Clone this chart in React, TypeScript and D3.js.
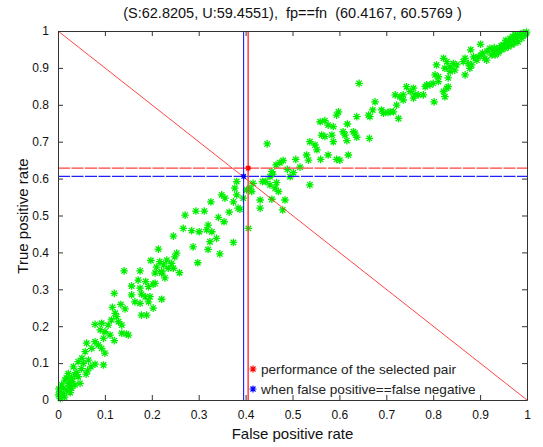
import React, { useRef, useEffect } from "react";
import * as d3 from "d3";

// scatter of (false positive rate, true positive rate) pairs
const lowPoints: [number, number][] = [
  [0.141, 0.35], [0.175, 0.35], [0.207, 0.344], [0.221, 0.344], [0.171, 0.325], [0.187, 0.321],
  [0.207, 0.316], [0.157, 0.309], [0.175, 0.303], [0.193, 0.307], [0.12, 0.289], [0.157, 0.285],
  [0.178, 0.287], [0.186, 0.28], [0.164, 0.266], [0.175, 0.262], [0.193, 0.266], [0.221, 0.273],
  [0.134, 0.259], [0.116, 0.251], [0.143, 0.247], [0.178, 0.23], [0.189, 0.23], [0.122, 0.235],
  [0.125, 0.226], [0.114, 0.217], [0.129, 0.212], [0.079, 0.205], [0.093, 0.208], [0.107, 0.203],
  [0.136, 0.203], [0.09, 0.19], [0.1, 0.185], [0.111, 0.176], [0.097, 0.167], [0.136, 0.181],
  [0.146, 0.179], [0.15, 0.176], [0.12, 0.161], [0.061, 0.154], [0.079, 0.158], [0.086, 0.149],
  [0.072, 0.14], [0.058, 0.131], [0.093, 0.14], [0.1, 0.127], [0.051, 0.113], [0.043, 0.104],
  [0.054, 0.099], [0.065, 0.108], [0.079, 0.097], [0.097, 0.095], [0.063, 0.079], [0.033, 0.09],
  [0.022, 0.072], [0.036, 0.068], [0.043, 0.063], [0.029, 0.059], [0.015, 0.054], [0.022, 0.045],
  [0.047, 0.045], [0.008, 0.041], [0.011, 0.032], [0.004, 0.022], [0.001, 0.014], [0.008, 0.009],
  [0.019, 0.027], [0.029, 0.032], [0.036, 0.041], [0.005, 0.004], [0.012, 0.018], [0.025, 0.038],
  [0.03, 0.05], [0.04, 0.075], [0.05, 0.085], [0.06, 0.07], [0.07, 0.09], [0.018, 0.06],
  [0.002, 0.03], [0.014, 0.008], [0.026, 0.02],
];

const midPoints: [number, number][] = [
  [0.381, 0.592], [0.377, 0.574], [0.381, 0.556], [0.374, 0.537], [0.384, 0.52], [0.349, 0.556],
  [0.356, 0.547], [0.326, 0.537], [0.294, 0.512], [0.312, 0.512], [0.271, 0.501], [0.365, 0.509],
  [0.342, 0.495], [0.354, 0.483], [0.32, 0.474], [0.317, 0.461], [0.328, 0.456], [0.267, 0.465],
  [0.285, 0.459], [0.301, 0.456], [0.246, 0.444], [0.338, 0.438], [0.324, 0.429], [0.374, 0.427],
  [0.288, 0.415], [0.32, 0.408], [0.345, 0.396], [0.214, 0.409], [0.253, 0.398], [0.249, 0.388],
  [0.198, 0.378], [0.217, 0.375], [0.232, 0.379], [0.242, 0.37], [0.225, 0.366], [0.21, 0.36],
  [0.235, 0.357], [0.221, 0.348], [0.228, 0.331], [0.246, 0.357], [0.298, 0.372], [0.259, 0.345],
  [0.203, 0.314], [0.196, 0.28], [0.203, 0.249],
  [0.559, 0.754], [0.576, 0.745], [0.587, 0.741], [0.562, 0.718], [0.569, 0.714], [0.584, 0.718],
  [0.587, 0.7], [0.537, 0.7], [0.548, 0.691], [0.552, 0.678], [0.446, 0.694], [0.53, 0.664],
  [0.534, 0.65], [0.56, 0.652], [0.576, 0.664], [0.594, 0.652], [0.507, 0.652], [0.48, 0.649],
  [0.465, 0.637], [0.473, 0.643], [0.489, 0.625], [0.516, 0.631], [0.502, 0.616], [0.456, 0.619],
  [0.458, 0.612], [0.452, 0.605], [0.495, 0.605], [0.436, 0.592], [0.443, 0.592], [0.466, 0.589],
  [0.452, 0.583], [0.463, 0.574], [0.47, 0.565], [0.416, 0.587], [0.409, 0.574], [0.413, 0.565],
  [0.537, 0.583], [0.402, 0.569], [0.395, 0.547], [0.431, 0.542], [0.456, 0.544], [0.484, 0.542],
  [0.479, 0.515], [0.431, 0.52], [0.388, 0.517], [0.406, 0.465],
];

const highPoints: [number, number][] = [
  [0.807, 0.908], [0.804, 0.881], [0.811, 0.876], [0.8, 0.858], [0.811, 0.863], [0.642, 0.858],
  [0.743, 0.849], [0.758, 0.845], [0.751, 0.836], [0.786, 0.854], [0.783, 0.849], [0.793, 0.854],
  [0.768, 0.827], [0.758, 0.818], [0.736, 0.827], [0.719, 0.827], [0.729, 0.822], [0.736, 0.813],
  [0.779, 0.827], [0.802, 0.808], [0.676, 0.808], [0.722, 0.799], [0.715, 0.781], [0.704, 0.779],
  [0.69, 0.786], [0.694, 0.777], [0.708, 0.781], [0.726, 0.763], [0.671, 0.786], [0.662, 0.772],
  [0.665, 0.768], [0.598, 0.781], [0.594, 0.772], [0.637, 0.768], [0.569, 0.757], [0.617, 0.748],
  [0.608, 0.727], [0.612, 0.718], [0.63, 0.727], [0.633, 0.723], [0.637, 0.712], [0.616, 0.703],
  [0.664, 0.709], [0.601, 0.65], [0.619, 0.664],
  [0.999, 0.997], [0.992, 0.995], [0.985, 0.989], [0.978, 0.98], [0.971, 0.976], [0.964, 0.971],
  [0.957, 0.967], [0.949, 0.962], [0.942, 0.953], [0.935, 0.949], [0.928, 0.944], [0.925, 0.935],
  [0.921, 0.953], [0.997, 0.993], [0.996, 0.989], [0.989, 0.98], [0.981, 0.971], [0.974, 0.967],
  [0.967, 0.962], [0.96, 0.957], [0.953, 0.953], [0.946, 0.949], [0.939, 0.94], [0.932, 0.935],
  [0.964, 0.98], [0.901, 0.964], [0.88, 0.949], [0.896, 0.93], [0.903, 0.935], [0.91, 0.926],
  [0.893, 0.921], [0.886, 0.93], [0.914, 0.921], [0.868, 0.926], [0.864, 0.917], [0.875, 0.912],
  [0.882, 0.908], [0.878, 0.899], [0.868, 0.881], [0.822, 0.926], [0.829, 0.917], [0.825, 0.899],
  [0.836, 0.903], [0.843, 0.912], [0.85, 0.908], [0.836, 0.89], [0.846, 0.894], [0.832, 0.873],
  [0.829, 0.845], [0.832, 0.849], [0.822, 0.836], [0.825, 0.822], [0.761, 0.827],
  [0.99, 0.99], [0.98, 0.99], [0.97, 0.985], [0.955, 0.975], [0.945, 0.96], [0.93, 0.955],
  [0.915, 0.945], [0.905, 0.94], [0.89, 0.925], [0.975, 0.99], [0.96, 0.97], [0.94, 0.945],
];

// selected pair (S, U) and the fp==fn point, in percent
const selectedPair = { sens: 62.8205, spec: 59.4551 };
const equalErrorPair = { spec: 60.4167, sens: 60.5769 };

const tickValues = [0, 0.1, 0.2, 0.3, 0.4, 0.5, 0.6, 0.7, 0.8, 0.9, 1];
const legendLabels = ["performance of the selected pair", "when false positive==false negative"];

const FONT = "'Liberation Sans', Arial, Helvetica, sans-serif";

const starPath = (r: number) => {
  const d = r * 0.72;
  return `M${-r},0L${r},0M0,${-r}L0,${r}M${-d},${-d}L${d},${d}M${-d},${d}L${d},${-d}`;
};

const RocChart = () => {
  const ref = useRef(null);

  useEffect(() => {
    const svg = d3.select(ref.current);
    svg.selectAll("*").remove();

    const margin = { top: 31, right: 16, bottom: 47, left: 58 },
      width = 543 - margin.left - margin.right,
      height = 447 - margin.top - margin.bottom;

    const x = d3.scaleLinear().domain([0, 1]).range([0, width]);
    const y = d3.scaleLinear().domain([0, 1]).range([height, 0]);

    svg.append("rect").attr("width", 543).attr("height", 447).attr("fill", "#fff");

    const chart = svg.append("g").attr("transform", `translate(${margin.left},${margin.top})`);

    // green asterisks
    const allPoints = [...lowPoints, ...midPoints, ...highPoints];
    chart
      .selectAll(".pt")
      .data(allPoints)
      .enter()
      .append("path")
      .attr("class", "pt")
      .attr("transform", (d) => `translate(${x(d[0])},${y(d[1])})`)
      .attr("d", starPath(3.8))
      .attr("stroke", "#00ee00")
      .attr("stroke-width", 1.3)
      .attr("fill", "none");

    // reference lines
    const selX = 1 - selectedPair.spec / 100;
    const selY = selectedPair.sens / 100;
    const eqX = 1 - equalErrorPair.spec / 100;
    const eqY = equalErrorPair.sens / 100;

    chart
      .append("line")
      .attr("x1", x(0)).attr("y1", y(1)).attr("x2", x(1)).attr("y2", y(0))
      .attr("stroke", "#ff3030").attr("stroke-width", 0.9);

    chart
      .append("line")
      .attr("x1", x(0)).attr("x2", x(1)).attr("y1", y(selY)).attr("y2", y(selY))
      .attr("stroke", "#ff4040").attr("stroke-width", 1.3).attr("stroke-dasharray", "12,1.5");
    chart
      .append("line")
      .attr("x1", x(0)).attr("x2", x(1)).attr("y1", y(eqY)).attr("y2", y(eqY))
      .attr("stroke", "#2020ff").attr("stroke-width", 1.3).attr("stroke-dasharray", "12,1.5");

    chart
      .append("line")
      .attr("x1", x(selX)).attr("x2", x(selX)).attr("y1", y(0)).attr("y2", y(1))
      .attr("stroke", "#ff4040").attr("stroke-width", 1.5);
    chart
      .append("line")
      .attr("x1", x(eqX)).attr("x2", x(eqX)).attr("y1", y(0)).attr("y2", y(1))
      .attr("stroke", "#0000ff").attr("stroke-width", 1);

    chart
      .append("path")
      .attr("transform", `translate(${x(selX)},${y(selY)})`)
      .attr("d", starPath(3))
      .attr("fill", "none")
      .attr("stroke", "#ff0000").attr("stroke-width", 1.3);
    chart
      .append("path")
      .attr("transform", `translate(${x(eqX)},${y(eqY)})`)
      .attr("d", starPath(3))
      .attr("fill", "none")
      .attr("stroke", "#0000ff").attr("stroke-width", 1.3);

    // axes box with inward ticks on all sides
    const fmt = d3.format("~g");
    const bottom = chart
      .append("g")
      .attr("transform", `translate(0,${height})`)
      .call(d3.axisBottom(x).tickValues(tickValues).tickSizeInner(-5).tickSizeOuter(0).tickPadding(10).tickFormat(fmt));
    const left = chart
      .append("g")
      .call(d3.axisLeft(y).tickValues(tickValues).tickSizeInner(-5).tickSizeOuter(0).tickPadding(9).tickFormat(fmt));
    const top = chart
      .append("g")
      .call(d3.axisTop(x).tickValues(tickValues).tickSizeInner(-5).tickSizeOuter(0).tickFormat(() => ""));
    const right = chart
      .append("g")
      .attr("transform", `translate(${width},0)`)
      .call(d3.axisRight(y).tickValues(tickValues).tickSizeInner(-5).tickSizeOuter(0).tickFormat(() => ""));

    [bottom, left, top, right].forEach((g) => {
      g.select(".domain").attr("stroke", "#333").attr("stroke-width", 1);
      g.selectAll(".tick line").attr("stroke", "#333");
      g.selectAll("text").attr("font-family", FONT).attr("font-size", 12).attr("fill", "#111");
    });

    // title and axis labels
    svg
      .append("text")
      .attr("x", margin.left + width / 2)
      .attr("y", 18)
      .attr("text-anchor", "middle")
      .attr("font-family", FONT)
      .attr("font-size", 14.5)
      .attr("fill", "#111")
      .style("white-space", "pre")
      .text("(S:62.8205, U:59.4551),  fp==fn  (60.4167, 60.5769 )");

    svg
      .append("text")
      .attr("x", margin.left + width / 2)
      .attr("y", 439)
      .attr("text-anchor", "middle")
      .attr("font-family", FONT)
      .attr("font-size", 15)
      .attr("fill", "#111")
      .text("False positive rate");

    svg
      .append("text")
      .attr("transform", "rotate(-90)")
      .attr("x", -216)
      .attr("y", 28)
      .attr("text-anchor", "middle")
      .attr("font-family", FONT)
      .attr("font-size", 15)
      .attr("fill", "#111")
      .text("True positive rate");

    // legend
    const legendColors = ["#ff0000", "#0000ff"];
    legendLabels.forEach((label, i) => {
      const ly = 369 + i * 20;
      svg
        .append("path")
        .attr("transform", `translate(253,${ly})`)
        .attr("d", starPath(3.5))
        .attr("fill", "none")
        .attr("stroke", legendColors[i])
        .attr("stroke-width", 1.2);
      svg
        .append("text")
        .attr("x", 261)
        .attr("y", ly + 5)
        .attr("font-family", FONT)
        .attr("font-size", 13.6)
        .attr("fill", "#222")
        .text(label);
    });
  }, []);

  return (
    <svg
      ref={ref}
      width={543}
      height={447}
      style={{ position: "absolute", left: 0, top: 0, display: "block" }}
    />
  );
};

export default function App() {
  return <RocChart />;
}
